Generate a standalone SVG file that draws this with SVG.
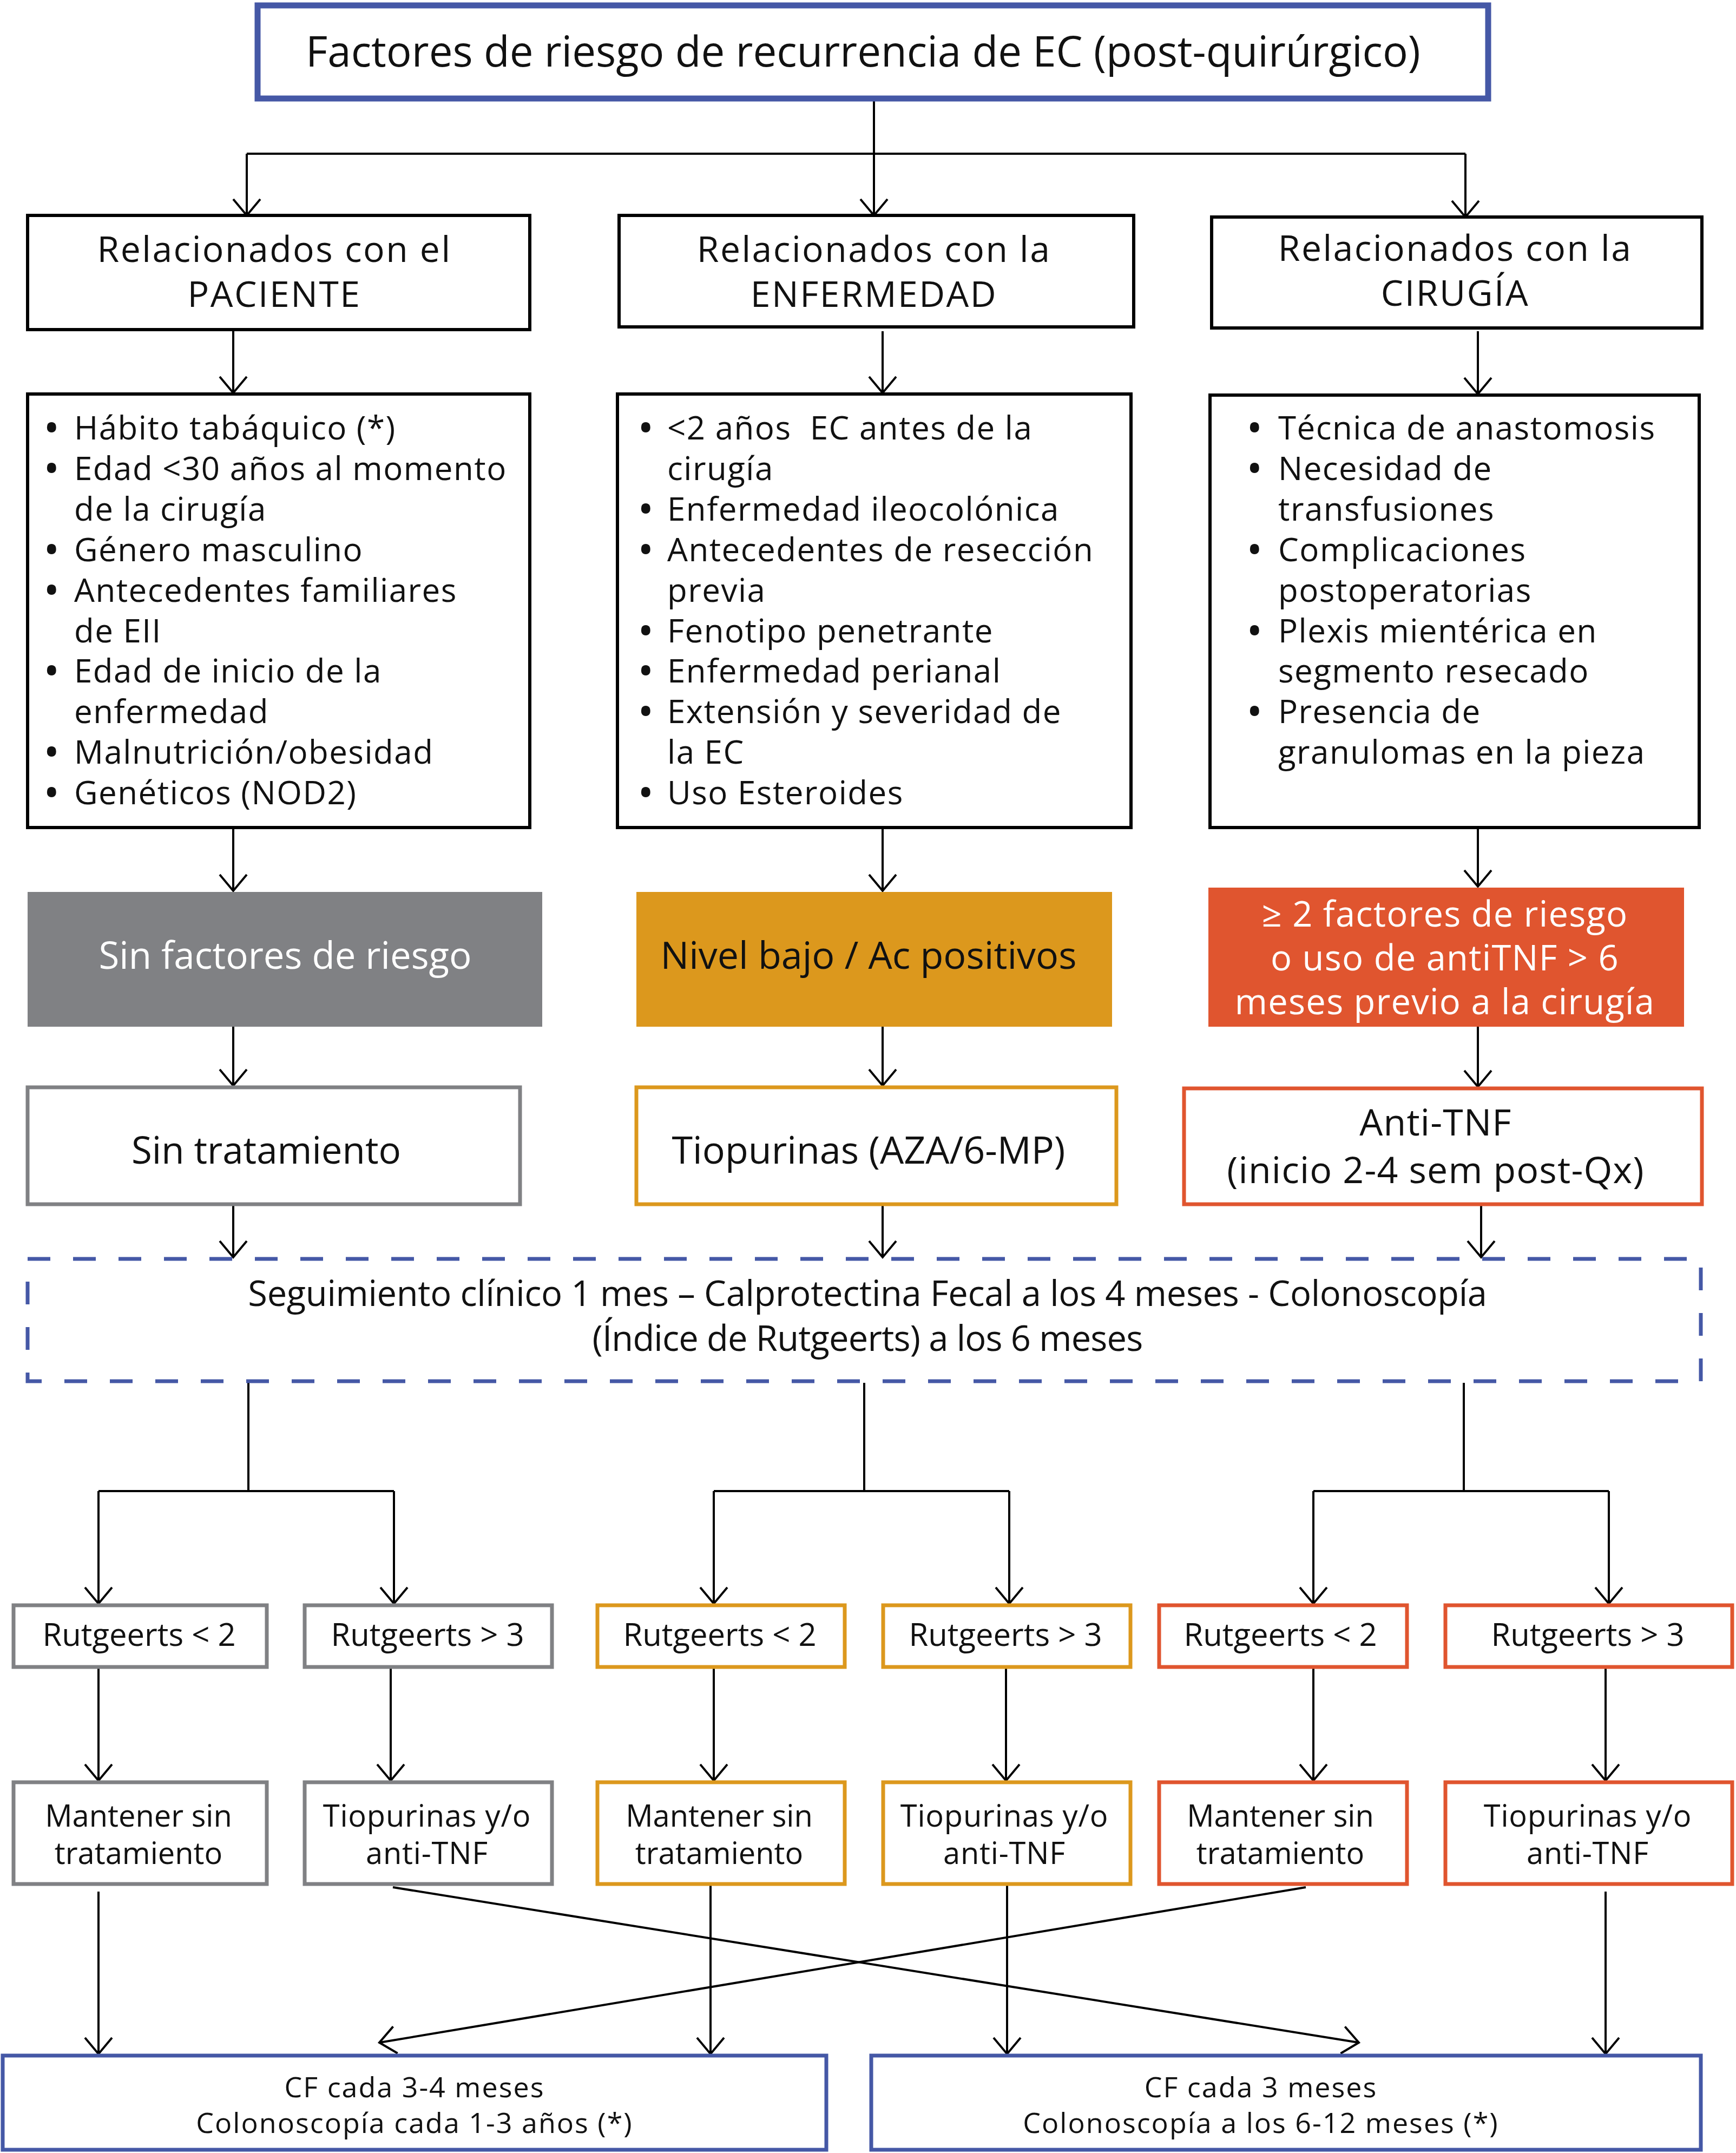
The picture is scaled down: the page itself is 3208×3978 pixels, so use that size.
<svg xmlns="http://www.w3.org/2000/svg" width="3208" height="3978" viewBox="0 0 3208 3978">
<defs>
<style>
.t{font-family:"Open Sans","Liberation Sans",sans-serif;fill:#111;text-anchor:middle}
.l{font-family:"Open Sans","Liberation Sans",sans-serif;fill:#111;font-size:60px;letter-spacing:1.5px}
.d{font-weight:700}
.w{fill:#fff}
.bk{fill:#fff;stroke:#000;stroke-width:6}
.gy{fill:#fff;stroke:#808184;stroke-width:7}
.or{fill:#fff;stroke:#dc981d;stroke-width:7}
.rd{fill:#fff;stroke:#e0552f;stroke-width:7}
.bl{fill:#fff;stroke:#4558a6;stroke-width:7}
.c{fill:none;stroke:#000;stroke-width:4}
</style>
<marker id="ah" markerUnits="userSpaceOnUse" markerWidth="80" markerHeight="80" viewBox="-40 -40 80 80" refX="0" refY="0" orient="auto" overflow="visible">
<path d="M-30,-25 L0,0 L-30,25" fill="none" stroke="#000" stroke-width="4"/>
</marker>
</defs>
<rect width="3208" height="3978" fill="#fff"/>

<g id="connectors">
<path class="c" d="M1615,185 V398" marker-end="url(#ah)"/>
<path class="c" d="M456,284 H2708"/>
<path class="c" d="M456,284 V398" marker-end="url(#ah)"/>
<path class="c" d="M2708,284 V401" marker-end="url(#ah)"/>
<path class="c" d="M431,612 V726" marker-end="url(#ah)"/>
<path class="c" d="M1631,612 V726" marker-end="url(#ah)"/>
<path class="c" d="M2731,612 V728" marker-end="url(#ah)"/>
<path class="c" d="M431,1532 V1646" marker-end="url(#ah)"/>
<path class="c" d="M1631,1532 V1646" marker-end="url(#ah)"/>
<path class="c" d="M2731,1532 V1638" marker-end="url(#ah)"/>
<path class="c" d="M431,1897 V2006" marker-end="url(#ah)"/>
<path class="c" d="M1631,1897 V2006" marker-end="url(#ah)"/>
<path class="c" d="M2731,1897 V2008" marker-end="url(#ah)"/>
<path class="c" d="M431,2228 V2323" marker-end="url(#ah)"/>
<path class="c" d="M1631,2228 V2323" marker-end="url(#ah)"/>
<path class="c" d="M2737,2228 V2323" marker-end="url(#ah)"/>
<path class="c" d="M459,2555 V2755 M182,2755 H728 M1597,2555 V2755 M1319,2755 H1865 M2705,2555 V2755 M2427,2755 H2973"/>
<path class="c" d="M182,2755 V2963" marker-end="url(#ah)"/>
<path class="c" d="M728,2755 V2963" marker-end="url(#ah)"/>
<path class="c" d="M1319,2755 V2963" marker-end="url(#ah)"/>
<path class="c" d="M1865,2755 V2963" marker-end="url(#ah)"/>
<path class="c" d="M2427,2755 V2963" marker-end="url(#ah)"/>
<path class="c" d="M2973,2755 V2963" marker-end="url(#ah)"/>
<path class="c" d="M182,3076 V3290" marker-end="url(#ah)"/>
<path class="c" d="M722,3076 V3290" marker-end="url(#ah)"/>
<path class="c" d="M1319,3076 V3290" marker-end="url(#ah)"/>
<path class="c" d="M1859,3076 V3290" marker-end="url(#ah)"/>
<path class="c" d="M2427,3076 V3290" marker-end="url(#ah)"/>
<path class="c" d="M2967,3076 V3290" marker-end="url(#ah)"/>
<path class="c" d="M182,3495 V3795" marker-end="url(#ah)"/>
<path class="c" d="M1313,3484 V3795" marker-end="url(#ah)"/>
<path class="c" d="M1861,3484 V3795" marker-end="url(#ah)"/>
<path class="c" d="M2967,3495 V3795" marker-end="url(#ah)"/>
<path class="c" d="M726,3487 L2511,3774" marker-end="url(#ah)"/>
<path class="c" d="M2413,3487 L701,3774" marker-end="url(#ah)"/>
</g>

<g id="title">
<rect x="476" y="10" width="2274" height="172" fill="#fff" stroke="#4558a6" stroke-width="11"/>
<text class="t" x="1595" y="123" font-size="78">Factores de riesgo de recurrencia de EC (post-quirúrgico)</text>
</g>

<g id="cat-paciente">
<rect class="bk" x="51" y="398" width="928" height="211"/>
<text class="t" x="507" y="484" font-size="66" letter-spacing="2.5">Relacionados con el</text>
<text class="t" x="507" y="567" font-size="66" letter-spacing="2.5">PACIENTE</text>
</g>
<g id="cat-enfermedad">
<rect class="bk" x="1144" y="398" width="951" height="206"/>
<text class="t" x="1615" y="484" font-size="66" letter-spacing="2.5">Relacionados con la</text>
<text class="t" x="1615" y="567" font-size="66" letter-spacing="2.5">ENFERMEDAD</text>
</g>
<g id="cat-cirugia">
<rect class="bk" x="2239" y="401" width="906" height="205"/>
<text class="t" x="2689" y="482" font-size="66" letter-spacing="2.5">Relacionados con la</text>
<text class="t" x="2689" y="565" font-size="66" letter-spacing="2.5">CIRUGÍA</text>
</g>

<g id="list-paciente">
<rect class="bk" x="51" y="728" width="928" height="801"/>
<text class="l" y="812"><tspan class="d" x="84">•</tspan><tspan x="137">Hábito tabáquico (*)</tspan></text>
<text class="l" y="886.9"><tspan class="d" x="84">•</tspan><tspan x="137">Edad &lt;30 años al momento</tspan></text>
<text class="l" x="137" y="961.8">de la cirugía</text>
<text class="l" y="1036.7"><tspan class="d" x="84">•</tspan><tspan x="137">Género masculino</tspan></text>
<text class="l" y="1111.6"><tspan class="d" x="84">•</tspan><tspan x="137">Antecedentes familiares</tspan></text>
<text class="l" x="137" y="1186.5">de EII</text>
<text class="l" y="1261.4"><tspan class="d" x="84">•</tspan><tspan x="137">Edad de inicio de la</tspan></text>
<text class="l" x="137" y="1336.3">enfermedad</text>
<text class="l" y="1411.2"><tspan class="d" x="84">•</tspan><tspan x="137">Malnutrición/obesidad</tspan></text>
<text class="l" y="1486.1"><tspan class="d" x="84">•</tspan><tspan x="137">Genéticos (NOD2)</tspan></text>
</g>
<g id="list-enfermedad">
<rect class="bk" x="1141" y="728" width="949" height="801"/>
<text class="l" y="812" xml:space="preserve"><tspan class="d" x="1182">•</tspan><tspan x="1233">&lt;2 años  EC antes de la</tspan></text>
<text class="l" x="1233" y="886.9">cirugía</text>
<text class="l" y="961.8"><tspan class="d" x="1182">•</tspan><tspan x="1233">Enfermedad ileocolónica</tspan></text>
<text class="l" y="1036.7"><tspan class="d" x="1182">•</tspan><tspan x="1233">Antecedentes de resección</tspan></text>
<text class="l" x="1233" y="1111.6">previa</text>
<text class="l" y="1186.5"><tspan class="d" x="1182">•</tspan><tspan x="1233">Fenotipo penetrante</tspan></text>
<text class="l" y="1261.4"><tspan class="d" x="1182">•</tspan><tspan x="1233">Enfermedad perianal</tspan></text>
<text class="l" y="1336.3"><tspan class="d" x="1182">•</tspan><tspan x="1233">Extensión y severidad de</tspan></text>
<text class="l" x="1233" y="1411.2">la EC</text>
<text class="l" y="1486.1"><tspan class="d" x="1182">•</tspan><tspan x="1233">Uso Esteroides</tspan></text>
</g>
<g id="list-cirugia">
<rect class="bk" x="2236" y="730" width="904" height="799"/>
<text class="l" y="812"><tspan class="d" x="2307">•</tspan><tspan x="2362">Técnica de anastomosis</tspan></text>
<text class="l" y="886.9"><tspan class="d" x="2307">•</tspan><tspan x="2362">Necesidad de</tspan></text>
<text class="l" x="2362" y="961.8">transfusiones</text>
<text class="l" y="1036.7"><tspan class="d" x="2307">•</tspan><tspan x="2362">Complicaciones</tspan></text>
<text class="l" x="2362" y="1111.6">postoperatorias</text>
<text class="l" y="1186.5"><tspan class="d" x="2307">•</tspan><tspan x="2362">Plexis mientérica en</tspan></text>
<text class="l" x="2362" y="1261.4">segmento resecado</text>
<text class="l" y="1336.3"><tspan class="d" x="2307">•</tspan><tspan x="2362">Presencia de</tspan></text>
<text class="l" x="2362" y="1411.2">granulomas en la pieza</text>
</g>

<g id="risk-none">
<rect x="51" y="1648" width="951" height="249" fill="#808184"/>
<text class="t w" x="527" y="1790" font-size="69">Sin factores de riesgo</text>
</g>
<g id="risk-low">
<rect x="1176" y="1648" width="879" height="249" fill="#dc981d"/>
<text class="t" x="1605" y="1790" font-size="70">Nivel bajo / Ac positivos</text>
</g>
<g id="risk-high">
<rect x="2233" y="1640" width="879" height="257" fill="#e0552f"/>
<text class="t w" x="2670" y="1712" font-size="65" letter-spacing="1.3">≥ 2 factores de riesgo</text>
<text class="t w" x="2670" y="1793" font-size="65" letter-spacing="1.3">o uso de antiTNF &gt; 6</text>
<text class="t w" x="2670" y="1874" font-size="65" letter-spacing="1.3">meses previo a la cirugía</text>
</g>

<g id="tx-none">
<rect class="gy" x="51" y="2009" width="910" height="216"/>
<text class="t" x="492" y="2150" font-size="69">Sin tratamiento</text>
</g>
<g id="tx-tiopurinas">
<rect class="or" x="1176" y="2009" width="887" height="216"/>
<text class="t" x="1605" y="2150" font-size="70">Tiopurinas (AZA/6-MP)</text>
</g>
<g id="tx-antitnf">
<rect class="rd" x="2188" y="2011" width="957" height="214"/>
<text class="t" x="2653" y="2098" font-size="68" letter-spacing="1.2">Anti-TNF</text>
<text class="t" x="2653" y="2186" font-size="68" letter-spacing="1.2">(inicio 2-4 sem post-Qx)</text>
</g>

<g id="seguimiento">
<rect x="51" y="2326" width="3092" height="226" fill="none" stroke="#4558a6" stroke-width="7" stroke-dasharray="42 42"/>
<text class="t" x="1603" y="2413" font-size="65" letter-spacing="-0.3">Seguimiento clínico 1 mes – Calprotectina Fecal a los 4 meses - Colonoscopía</text>
<text class="t" x="1603" y="2496" font-size="65" letter-spacing="-0.8">(Índice de Rutgeerts) a los 6 meses</text>
</g>

<g id="r1"><rect class="gy" x="25" y="2966" width="468" height="114"/><text class="t" x="257" y="3041" font-size="58">Rutgeerts &lt; 2</text></g>
<g id="r2"><rect class="gy" x="563" y="2966" width="457" height="114"/><text class="t" x="790" y="3041" font-size="58">Rutgeerts &gt; 3</text></g>
<g id="r3"><rect class="or" x="1104" y="2966" width="457" height="114"/><text class="t" x="1330" y="3041" font-size="58">Rutgeerts &lt; 2</text></g>
<g id="r4"><rect class="or" x="1632" y="2966" width="457" height="114"/><text class="t" x="1858" y="3041" font-size="58">Rutgeerts &gt; 3</text></g>
<g id="r5"><rect class="rd" x="2142" y="2966" width="458" height="114"/><text class="t" x="2366" y="3041" font-size="58">Rutgeerts &lt; 2</text></g>
<g id="r6"><rect class="rd" x="2671" y="2966" width="530" height="114"/><text class="t" x="2934" y="3041" font-size="58">Rutgeerts &gt; 3</text></g>

<g id="m1"><rect class="gy" x="25" y="3293" width="468" height="188"/><text class="t" x="256" y="3375" font-size="56">Mantener sin</text><text class="t" x="256" y="3444" font-size="56">tratamiento</text></g>
<g id="m2"><rect class="gy" x="563" y="3293" width="457" height="188"/><text class="t" x="789" y="3375" font-size="56" letter-spacing="0.8">Tiopurinas y/o</text><text class="t" x="789" y="3444" font-size="56" letter-spacing="0.8">anti-TNF</text></g>
<g id="m3"><rect class="or" x="1104" y="3293" width="457" height="188"/><text class="t" x="1329" y="3375" font-size="56">Mantener sin</text><text class="t" x="1329" y="3444" font-size="56">tratamiento</text></g>
<g id="m4"><rect class="or" x="1632" y="3293" width="457" height="188"/><text class="t" x="1856" y="3375" font-size="56" letter-spacing="0.8">Tiopurinas y/o</text><text class="t" x="1856" y="3444" font-size="56" letter-spacing="0.8">anti-TNF</text></g>
<g id="m5"><rect class="rd" x="2142" y="3293" width="458" height="188"/><text class="t" x="2366" y="3375" font-size="56">Mantener sin</text><text class="t" x="2366" y="3444" font-size="56">tratamiento</text></g>
<g id="m6"><rect class="rd" x="2671" y="3293" width="530" height="188"/><text class="t" x="2934" y="3375" font-size="56" letter-spacing="0.8">Tiopurinas y/o</text><text class="t" x="2934" y="3444" font-size="56" letter-spacing="0.8">anti-TNF</text></g>

<g id="f1">
<rect class="bl" x="5" y="3798" width="1522" height="174"/>
<text class="t" x="766" y="3875" font-size="52" letter-spacing="2">CF cada 3-4 meses</text>
<text class="t" x="766" y="3941" font-size="52" letter-spacing="2">Colonoscopía cada 1-3 años (*)</text>
</g>
<g id="f2">
<rect class="bl" x="1610" y="3798" width="1533" height="174"/>
<text class="t" x="2330" y="3875" font-size="52" letter-spacing="2">CF cada 3 meses</text>
<text class="t" x="2330" y="3941" font-size="52" letter-spacing="2">Colonoscopía a los 6-12 meses (*)</text>
</g>
</svg>
